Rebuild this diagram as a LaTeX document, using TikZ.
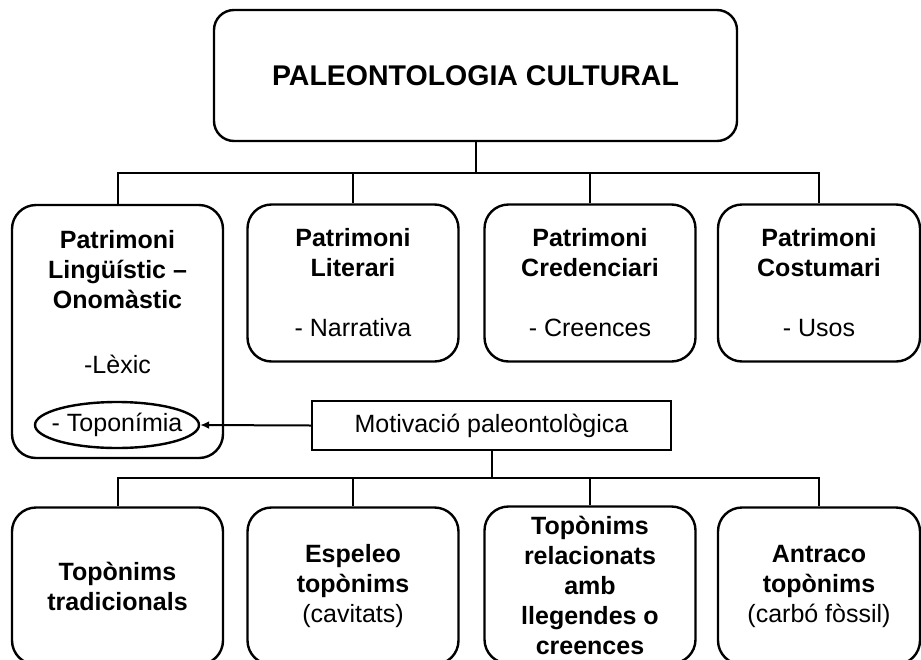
\documentclass[tikz,border=0pt]{standalone}
\usepackage{fontspec}
\setmainfont{Liberation Sans}
\usepackage{tikz}
\usetikzlibrary{arrows,arrows.meta,shapes.geometric,positioning}

\tikzset{
  caixa/.style={draw, line width=2.4pt, rounded corners=24pt, align=center, inner sep=0pt,
    minimum width=211pt, minimum height=157pt, font=\fontsize{25}{30}\selectfont\bfseries},
  rectangle caixa/.style={draw, line width=2.4pt, inner sep=0pt, font=\fontsize{25}{30}\selectfont},
  linia/.style={line width=2pt},
}

\begin{document}
\begin{tikzpicture}[x=1pt,y=-1pt]
%Tot en pixels de la imatge original (921 x 659), l'eix y cap avall
  \useasboundingbox (0,0) rectangle (921,659);
  \pgfmathsetmacro{\filaA}{283}
  \pgfmathsetmacro{\filaB}{586}
%Caixa principal
  \node[caixa, minimum width=523pt, minimum height=131pt, rounded corners=20pt,
    font=\fontsize{28.5}{34}\selectfont\bfseries] (pc) at (475.5,75.5) {PALEONTOLOGIA CULTURAL};
%Primera fila: els patrimonis
  \node[caixa, minimum height=253pt] (ling) at (117.5,331.5)
    {Patrimoni\\Lingüístic –\\Onomàstic\\[35pt]{\mdseries -Lèxic}\\[30pt]~};
  \node[caixa] (lit) at (353,\filaA) {Patrimoni\\Literari\\[30pt]{\mdseries - Narrativa}};
  \node[caixa] (cred) at (590,\filaA) {Patrimoni\\Credenciari\\[30pt]{\mdseries - Creences}};
  \node[caixa, minimum width=202pt] (cost) at (819,\filaA) {Patrimoni\\Costumari\\[30pt]{\mdseries - Usos}};
  \node[rectangle caixa, ellipse, minimum width=164pt, minimum height=46pt, inner xsep=-9pt] (topo) at (117,425) {- Toponímia};
%Motivacio i segona fila
  \node[rectangle caixa, minimum width=359pt, minimum height=49pt] (motiv) at (491.5,425.5) {Motivació paleontològica};
  \node[caixa] (trad) at (117.5,\filaB) {Topònims\\tradicionals};
  \node[caixa] (espel) at (353,\filaB) {Espeleo\\topònims\\{\mdseries (cavitats)}};
  \node[caixa] (lleg) at (590,\filaB-1) {Topònims\\relacionats\\amb\\llegendes o\\creences};
  \node[caixa, minimum width=202pt] (antr) at (819,\filaB) {Antraco\\topònims\\{\mdseries (carbó fòssil)}};
%Connexions
  \coordinate (nus1) at (475.5,173);
  \coordinate (nus2) at (491.5,478);
  \draw[linia] (pc.south) -- (nus1);
  \foreach \n in {ling,lit,cred,cost}{
    \draw[linia] (\n.north) |- (nus1);
  }
  \draw[linia] (motiv.south) -- (nus2);
  \foreach \n in {trad,espel,lleg,antr}{
    \draw[linia] (\n.north) |- (nus2);
  }
  \draw[linia,-{Latex[length=9pt,width=8pt]}] (motiv.west) -- (topo.east);
\end{tikzpicture}
\end{document}
